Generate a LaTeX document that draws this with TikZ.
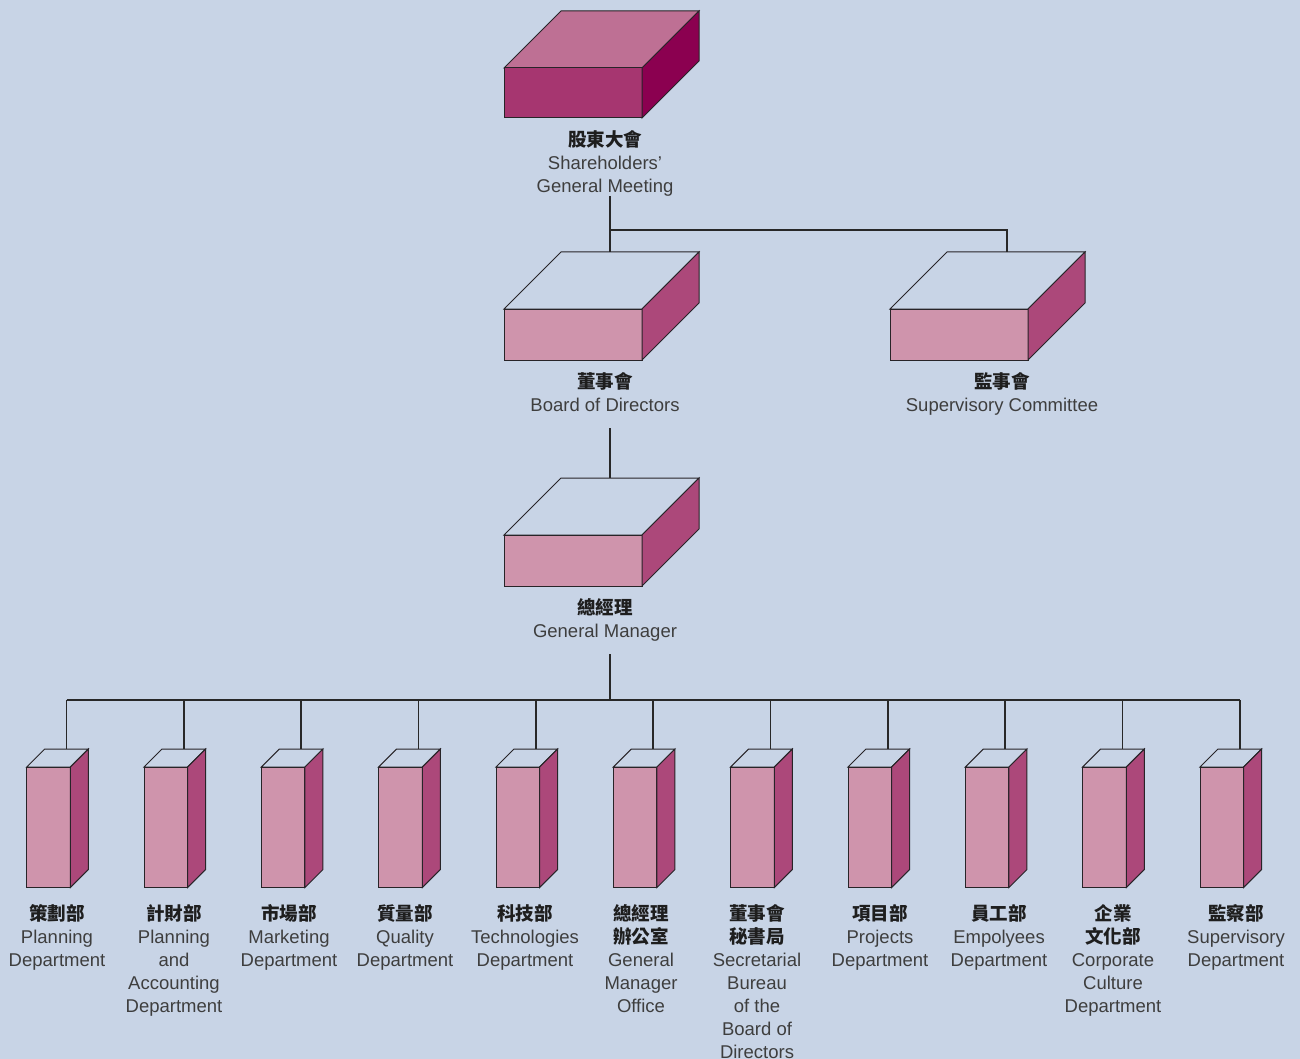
\documentclass[tikz,border=0pt]{standalone}
\usepackage{fontspec}
\setmainfont{Liberation Sans}
\newfontfamily\cjk{Noto Sans CJK TC}
\newcommand\zhb[1]{{\cjk\bfseries\color{zhc}#1}}
\definecolor{bg}{RGB}{200,212,230}
\definecolor{linec}{RGB}{40,40,40}
\definecolor{edgec}{RGB}{40,36,40}
\definecolor{textc}{RGB}{62,62,62}
\definecolor{zhc}{RGB}{30,30,30}
\definecolor{shtop}{RGB}{190,112,148}
\definecolor{shfront}{RGB}{166,54,112}
\definecolor{shside}{RGB}{139,0,80}
\definecolor{pkfront}{RGB}{207,148,172}
\definecolor{pkside}{RGB}{172,72,122}
\tikzset{
  conn/.style={draw=linec, line width=1.4pt},
  boxedge/.style={draw=edgec, line width=1pt, line join=miter},
  lbl/.style={align=center, inner sep=0pt, font=\fontsize{18.5}{23}\selectfont, text=textc, anchor=north},
}
% #1 name, #2 x, #3 y (front top-left), #4 w, #5 h, #6 depth, #7 top, #8 front, #9 side
\newcommand\cuboid[9]{%
  \draw[boxedge, fill=#7] (#2,#3) -- ++(#6,-#6) -- ++(#4,0) -- ++(-#6,#6) -- cycle;
  \draw[boxedge, fill=#8] (#2,#3) rectangle ++(#4,#5);
  \draw[boxedge, fill=#9] ({#2+#4},#3) -- ++(#6,-#6) -- ++(0,#5) -- ++(-#6,#6) -- cycle;
  \coordinate (#1) at ({#2+#6+#4/2},{#3-#6});
}
\begin{document}
\begin{tikzpicture}[x=1pt,y=-1pt]
\useasboundingbox (0,0) rectangle (1300,1059);
\fill[bg] (0,0) rectangle (1300,1059);

% big boxes
\cuboid{sh}{504}{68}{138}{50}{57}{shtop}{shfront}{shside}
\cuboid{bd}{504}{309}{138}{51}{57}{bg}{pkfront}{pkside}
\cuboid{sv}{890}{309}{138}{51}{57}{bg}{pkfront}{pkside}
\cuboid{gm}{504}{535}{138}{51}{57}{bg}{pkfront}{pkside}

% labels of big boxes
\node[lbl] (shl) at (605,130) {\zhb{股東大會}\\Shareholders’\\General Meeting};
\node[lbl] (bdl) at (605,372) {\zhb{董事會}\\Board of Directors};
\node[lbl] (svl) at (1002,372) {\zhb{監事會}\\Supervisory Committee};
\node[lbl] (gml) at (605,598) {\zhb{總經理}\\General Manager};

% connector coordinates
\coordinate (shbot) at (610,196);
\coordinate (j1) at (610,230);
\coordinate (bdtop) at (610,252);
\coordinate (svtop) at (1007,252);
\coordinate (bdbot) at (610,428);
\coordinate (gmtop) at (610,478);
\coordinate (gmbot) at (610,654);
\coordinate (j2) at (610,700);

\draw[conn] (shbot) -- (bdtop);
\draw[conn] (j1) -| (svtop);
\draw[conn] (bdbot) -- (gmtop);
\draw[conn] (gmbot) -- (j2);

% department boxes
\foreach \i in {0,...,10}{
  \pgfmathsetmacro\xx{26.7+117.33*\i}
  \cuboid{d\i}{\xx}{767}{43.6}{120.5}{18}{bg}{pkfront}{pkside}
}
\draw[conn] (d0 |- j2) -- (d10 |- j2);
\foreach \i in {0,...,10}{
  \draw[conn] (d\i |- j2) -- (d\i);
}

% department labels
\node[lbl] (l0) at (57,904) {\zhb{策劃部}\\Planning\\Department};
\node[lbl] (l1) at (174,904) {\zhb{計財部}\\Planning\\and\\Accounting\\Department};
\node[lbl] (l2) at (289,904) {\zhb{市場部}\\Marketing\\Department};
\node[lbl] (l3) at (405,904) {\zhb{質量部}\\Quality\\Department};
\node[lbl] (l4) at (525,904) {\zhb{科技部}\\Technologies\\Department};
\node[lbl] (l5) at (641,904) {\zhb{總經理}\\\zhb{辦公室}\\General\\Manager\\Office};
\node[lbl] (l6) at (757,904) {\zhb{董事會}\\\zhb{秘書局}\\Secretarial\\Bureau\\of the\\Board of\\Directors};
\node[lbl] (l7) at (880,904) {\zhb{項目部}\\Projects\\Department};
\node[lbl] (l8) at (999,904) {\zhb{員工部}\\Empolyees\\Department};
\node[lbl] (l9) at (1113,904) {\zhb{企業}\\\zhb{文化部}\\Corporate\\Culture\\Department};
\node[lbl] (l10) at (1236,904) {\zhb{監察部}\\Supervisory\\Department};
\end{tikzpicture}
\end{document}
